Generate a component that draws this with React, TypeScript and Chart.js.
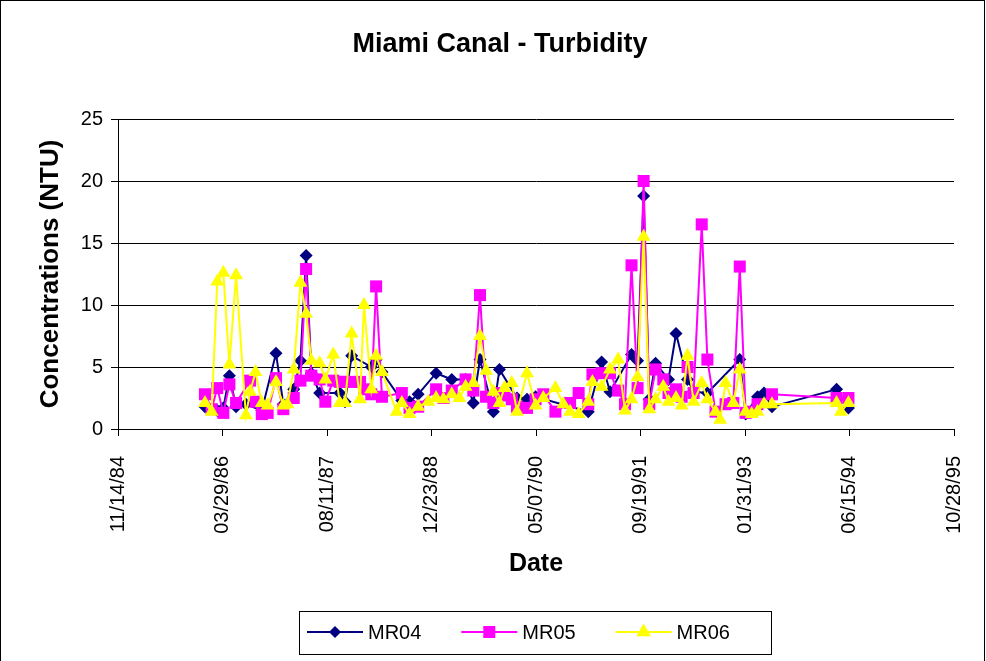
import React, { useEffect, useRef } from "react";
import { Chart, registerables } from "chart.js";

Chart.register(...registerables);

// Sampling dates (shared by the three stations)
const sampleDates: string[] = [
  "1986-01-04", "1986-02-05", "1986-03-04", "1986-04-02", "1986-05-01", "1986-06-02",
  "1986-07-19", "1986-08-08", "1986-09-03", "1986-10-03", "1986-10-31", "1986-12-10",
  "1987-01-14", "1987-02-03", "1987-03-05", "1987-04-06", "1987-05-03", "1987-05-28",
  "1987-07-07", "1987-08-03", "1987-09-10", "1987-10-11", "1987-11-05", "1987-12-07",
  "1988-01-16", "1988-02-04", "1988-03-10", "1988-04-02", "1988-04-30", "1988-07-09",
  "1988-08-03", "1988-09-09", "1988-10-20", "1988-12-08", "1989-01-14", "1989-02-18",
  "1989-03-30", "1989-05-05", "1989-06-04", "1989-07-11", "1989-08-12", "1989-09-10",
  "1989-10-15", "1989-11-13", "1989-12-07", "1990-01-11", "1990-02-05", "1990-03-25",
  "1990-05-05", "1990-06-11", "1990-08-08", "1990-09-15", "1990-10-17", "1990-11-27",
  "1991-01-12", "1991-02-01", "1991-03-17", "1991-04-26", "1991-06-04", "1991-07-07",
  "1991-08-07", "1991-09-05", "1991-10-04", "1991-10-31", "1991-11-30", "1992-01-06",
  "1992-01-31", "1992-03-07", "1992-04-03", "1992-05-01", "1992-05-30", "1992-07-08",
  "1992-08-04", "1992-09-12", "1992-10-04", "1992-10-30", "1992-12-06", "1993-01-06",
  "1993-02-03", "1993-03-04", "1993-04-01", "1993-05-02", "1993-06-09", "1994-04-14",
  "1994-05-05", "1994-06-10",
];

const mr04: (number | null)[] = [
  1.8, null, 1.5, 1.7, 4.3, 1.8,
  2.0, null, null, 1.5, null, 6.1,
  2.0, null, 3.2, 5.5, 14.0, 4.5,
  2.9, null, null, 2.9, 2.2, 5.9,
  null, null, 5.0, 5.6, 4.6, null,
  2.3, 2.2, 2.8, null, 4.5, null,
  4.0, null, 4.0, 2.1, 5.6, null,
  1.4, 4.8, null, null, 2.5, 2.4,
  2.6, null, null, null, null, null,
  1.4, null, 5.4, 3.0, null, null,
  6.0, 5.5, 18.8, 2.4, 5.3, null,
  4.0, 7.7, null, 4.0, 3.0, null,
  2.9, null, null, null, null, 5.6,
  1.2, null, 2.6, 2.9, 1.8, 3.2,
  null, 1.7,
];

const mr05: (number | null)[] = [
  2.8, 1.6, 3.3, 1.3, 3.6, 2.1,
  null, 3.9, 2.2, 1.2, 1.3, 4.1,
  1.6, null, 2.5, 3.9, 12.9, 4.3,
  4.0, 2.2, 3.9, 3.8, 3.8, 3.8,
  3.8, 3.2, 2.8, 11.5, 2.6, null,
  2.9, 1.7, 1.8, null, 3.2, 2.5,
  3.1, null, 4.0, 3.1, 10.8, 2.6,
  2.1, 2.9, 2.7, 2.4, 1.8, 1.7,
  2.4, 2.8, 1.4, null, 2.1, 2.9,
  2.0, 4.4, 4.5, 4.5, 3.1, 2.0,
  13.2, 3.3, 20.0, 2.0, 4.8, 4.0,
  2.9, 3.2, 2.6, 5.0, 2.9, 16.5,
  5.6, 1.4, null, 2.0, 2.1, 13.1,
  1.3, 1.4, 2.0, null, 2.8, 2.5,
  null, 2.5,
];

const mr06: (number | null)[] = [
  2.1, 1.4, 11.9, 12.6, 5.2, 12.4,
  1.1, 3.0, 4.6, 2.1, 1.9, 3.8,
  1.9, 2.0, 4.8, 11.8, 9.3, 5.5,
  5.3, 4.0, 6.0, 2.1, 2.1, 7.7,
  2.4, 10.0, 3.2, 5.9, 4.6, 1.4,
  2.1, 1.2, 1.8, 2.2, 2.5, 2.4,
  2.8, 2.5, 3.4, 3.7, 7.5, 4.7,
  3.0, 2.1, 3.3, 3.7, 1.4, 4.5,
  1.9, 2.5, 3.3, 2.0, 1.4, 1.2,
  2.2, 3.8, 3.4, 4.8, 5.6, 1.5,
  2.4, 4.2, 15.5, 1.6, 2.4, 3.4,
  2.2, 2.5, 1.9, 5.9, 2.2, 3.7,
  2.4, 1.4, 0.75, 3.7, 2.1, 4.8,
  1.4, 1.2, 1.4, 2.0, 2.0, 2.1,
  1.4, 2.1,
];

const seriesNames = ["MR04", "MR05", "MR06"];
const chartTitle = "Miami Canal - Turbidity";
const xTitle = "Date";
const yTitle = "Concentrations (NTU)";
const xTickFirst = "1984-11-14";
const xTickLast = "1995-10-28";
const xTickStepDays = 500;
const yMin = 0;
const yMax = 25;
const yStep = 5;

const FONT = "'Liberation Sans', Arial, sans-serif";

// Excel-style day serial
const toSerial = (s: string) => Date.parse(s + "T00:00:00Z") / 86400000 + 25569;
const fmtDate = (serial: number) => {
  const d = new Date(Math.round(serial - 25569) * 86400000);
  const mm = String(d.getUTCMonth() + 1).padStart(2, "0");
  const dd = String(d.getUTCDate()).padStart(2, "0");
  const yy = String(d.getUTCFullYear() % 100).padStart(2, "0");
  return `${mm}/${dd}/${yy}`;
};

const drawMarker = (ctx: CanvasRenderingContext2D, style: string, x: number, y: number, r: number) => {
  ctx.beginPath();
  if (style === "rectRot") {
    ctx.moveTo(x - r, y);
    ctx.lineTo(x, y - r);
    ctx.lineTo(x + r, y);
    ctx.lineTo(x, y + r);
  } else if (style === "rect") {
    const h = r * Math.SQRT1_2;
    ctx.rect(x - h, y - h, 2 * h, 2 * h);
  } else {
    for (let k = 0; k < 3; k++) {
      const a = (k * 2 * Math.PI) / 3;
      const px = x + Math.sin(a) * r;
      const py = y - Math.cos(a) * r;
      if (k === 0) ctx.moveTo(px, py);
      else ctx.lineTo(px, py);
    }
  }
  ctx.closePath();
  ctx.fill();
};

const boxLegend = {
  id: "boxLegend",
  afterDraw(chart: any) {
    const ctx: CanvasRenderingContext2D = chart.ctx;
    ctx.save();
    // chart title
    ctx.fillStyle = "#000";
    ctx.font = `bold 27px ${FONT}`;
    ctx.textAlign = "center";
    ctx.textBaseline = "middle";
    ctx.fillText(chartTitle, 500, 45);
    // legend box
    ctx.strokeStyle = "#000";
    ctx.lineWidth = 1;
    ctx.strokeRect(299.5, 611.5, 472, 43);
    const cy = 632;
    chart.data.datasets.forEach((ds: any, i: number) => {
      const x0 = 307 + i * 154.3;
      ctx.strokeStyle = ds.borderColor;
      ctx.lineWidth = 2;
      ctx.beginPath();
      ctx.moveTo(x0, cy);
      ctx.lineTo(x0 + 56, cy);
      ctx.stroke();
      ctx.fillStyle = ds.backgroundColor;
      drawMarker(ctx, ds.pointStyle, x0 + 28, cy, ds.legendRadius);
      ctx.fillStyle = "#000";
      ctx.font = `20px ${FONT}`;
      ctx.textBaseline = "middle";
      ctx.textAlign = "left";
      ctx.fillText(ds.label, x0 + 61, cy + 1);
    });
    // outer frame
    ctx.strokeStyle = "#000";
    ctx.lineWidth = 1;
    ctx.strokeRect(0.5, 0.5, 984, 680);
    ctx.restore();
  },
};

export default function App() {
  const ref = useRef<HTMLCanvasElement | null>(null);

  useEffect(() => {
    document.body.style.margin = "0";
    if (!ref.current) return;
    const mk = (vals: (number | null)[]) =>
      sampleDates.map((d, i) => ({ x: toSerial(d), y: vals[i] }));
    const colors = ["#000080", "#FF00FF", "#FFFF00"];
    const styles = ["rectRot", "rect", "triangle"];
    const radii = [6.5, 8.5, 8];
    const legendRadii = [6, 8.5, 8.5];
    const values = [mr04, mr05, mr06];
    const datasets = seriesNames.map((name, i) => ({
      label: name,
      data: mk(values[i]),
      borderColor: colors[i],
      backgroundColor: colors[i],
      pointStyle: styles[i],
      pointRadius: radii[i],
      pointHoverRadius: radii[i],
      pointBorderWidth: 0,
      borderWidth: 2,
      tension: 0,
      spanGaps: true,
      order: 3 - i,
      legendRadius: legendRadii[i],
    }));

    const chart = new Chart(ref.current, {
      type: "line",
      data: { datasets } as any,
      plugins: [boxLegend],
      options: {
        animation: false,
        responsive: false,
        maintainAspectRatio: false,
        layout: { padding: { top: 119, left: 0, right: 32, bottom: 82 } },
        plugins: {
          legend: { display: false },
          tooltip: { enabled: false },
          title: { display: false },
        },
        scales: {
          x: {
            type: "linear",
            min: toSerial(xTickFirst),
            max: toSerial(xTickLast),
            afterFit: (s: any) => {
              s.height = 150;
              s.paddingLeft = 0;
              s.paddingRight = 0;
            },
            ticks: {
              stepSize: xTickStepDays,
              autoSkip: false,
              maxRotation: 90,
              minRotation: 90,
              padding: 20,
              color: "#000",
              font: { family: FONT, size: 20 },
              callback: (v: any) => fmtDate(Number(v)),
            },
            grid: { drawOnChartArea: false, drawTicks: true, tickLength: 7, color: "#000" },
            border: { color: "#000", width: 1 },
            title: {
              display: true,
              text: xTitle,
              color: "#000",
              font: { family: FONT, size: 25, weight: "bold" },
              padding: { top: 0, bottom: 0 },
            },
          },
          y: {
            min: yMin,
            max: yMax,
            afterFit: (s: any) => {
              s.width = 118;
              s.paddingTop = 0;
              s.paddingBottom = 0;
            },
            ticks: {
              stepSize: yStep,
              padding: 8,
              color: "#000",
              font: { family: FONT, size: 20 },
            },
            grid: { color: "#000", lineWidth: 1, tickLength: 7 },
            border: { color: "#000", width: 1 },
            title: {
              display: true,
              text: yTitle,
              color: "#000",
              font: { family: FONT, size: 26, weight: "bold" },
              padding: { top: 35, bottom: 0 },
            },
          },
        },
      } as any,
    });
    return () => chart.destroy();
  }, []);

  return (
    <div style={{ width: 986, height: 661, background: "#fff" }}>
      <canvas ref={ref} width={986} height={661} style={{ display: "block" }} />
    </div>
  );
}
